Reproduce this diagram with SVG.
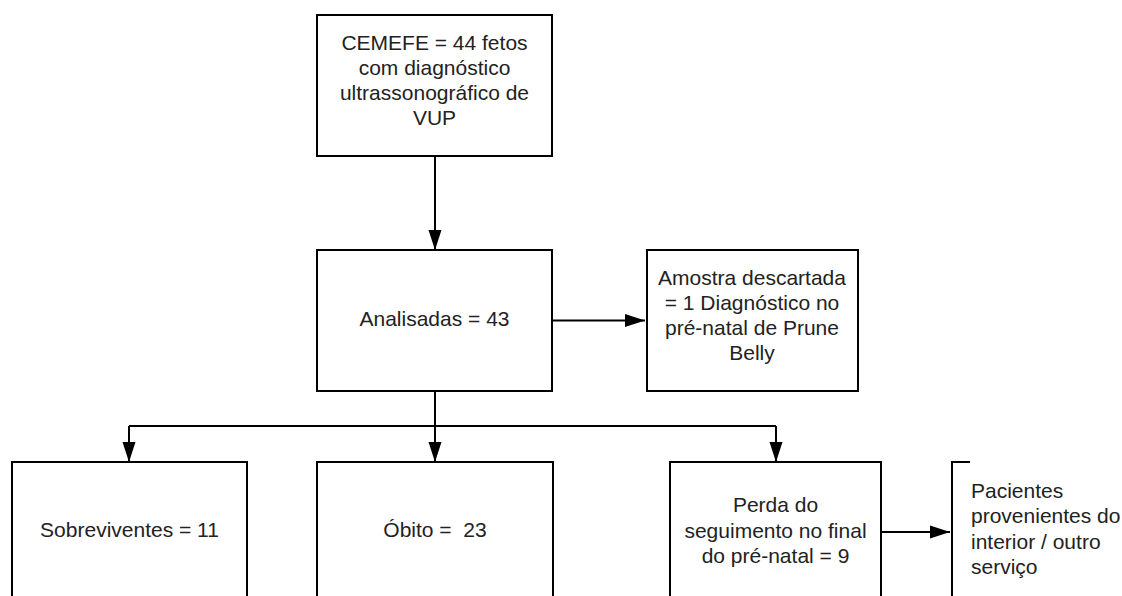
<svg xmlns="http://www.w3.org/2000/svg" width="1122" height="596" viewBox="0 0 1122 596">
<style>
.box{fill:#fff;stroke:#000;stroke-width:2}
.ln{fill:none;stroke:#000;stroke-width:2}
text{font-family:"Liberation Sans",Arial,sans-serif;font-size:21px;fill:#222}
.c{text-anchor:middle}
</style>
<defs>
<marker id="ah" markerWidth="20" markerHeight="14" refX="20" refY="7" orient="auto" markerUnits="userSpaceOnUse">
<path d="M0,0.5 L20,7 L0,13.5 Z" fill="#000"/>
</marker>
</defs>
<rect width="1122" height="596" fill="#fff"/>
<g id="connectors">
<path class="ln" d="M435,156 V250" marker-end="url(#ah)"/>
<path class="ln" d="M552,320.5 H645" marker-end="url(#ah)"/>
<path class="ln" d="M435,391 V426"/>
<path class="ln" d="M129,426 H776"/>
<path class="ln" d="M129,426 V462" marker-end="url(#ah)"/>
<path class="ln" d="M435,426 V462" marker-end="url(#ah)"/>
<path class="ln" d="M776,426 V462" marker-end="url(#ah)"/>
<path class="ln" d="M881,532 H950" marker-end="url(#ah)"/>
</g>
<g id="n1">
<rect class="box" x="317" y="15" width="235" height="141"/>
<text class="c" x="434.5" y="50">CEMEFE = 44 fetos</text>
<text class="c" x="434.5" y="75">com diagnóstico</text>
<text class="c" x="434.5" y="100">ultrassonográfico de</text>
<text class="c" x="434.5" y="125">VUP</text>
</g>
<g id="n2">
<rect class="box" x="317" y="250" width="235" height="141"/>
<text class="c" x="434.5" y="326">Analisadas = 43</text>
</g>
<g id="n3">
<rect class="box" x="647" y="250" width="211" height="141"/>
<text class="c" x="752" y="285">Amostra descartada</text>
<text class="c" x="752" y="310">= 1 Diagnóstico no</text>
<text class="c" x="752" y="335">pré-natal de Prune</text>
<text class="c" x="752" y="360">Belly</text>
</g>
<g id="n4">
<rect class="box" x="12" y="462" width="235" height="150"/>
<text class="c" x="129.5" y="537">Sobreviventes = 11</text>
</g>
<g id="n5">
<rect class="box" x="317" y="462" width="236" height="150"/>
<text class="c" x="435" y="537" xml:space="preserve">Óbito =  23</text>
</g>
<g id="n6">
<rect class="box" x="670" y="462" width="211" height="150"/>
<text class="c" x="775.5" y="512">Perda do</text>
<text class="c" x="775.5" y="538">seguimento no final</text>
<text class="c" x="775.5" y="563">do pré-natal = 9</text>
</g>
<g id="n7">
<path class="ln" d="M970,462 H952 V612"/>
<text x="971" y="498">Pacientes</text>
<text x="971" y="523">provenientes do</text>
<text x="971" y="549">interior / outro</text>
<text x="971" y="574">serviço</text>
</g>
</svg>
